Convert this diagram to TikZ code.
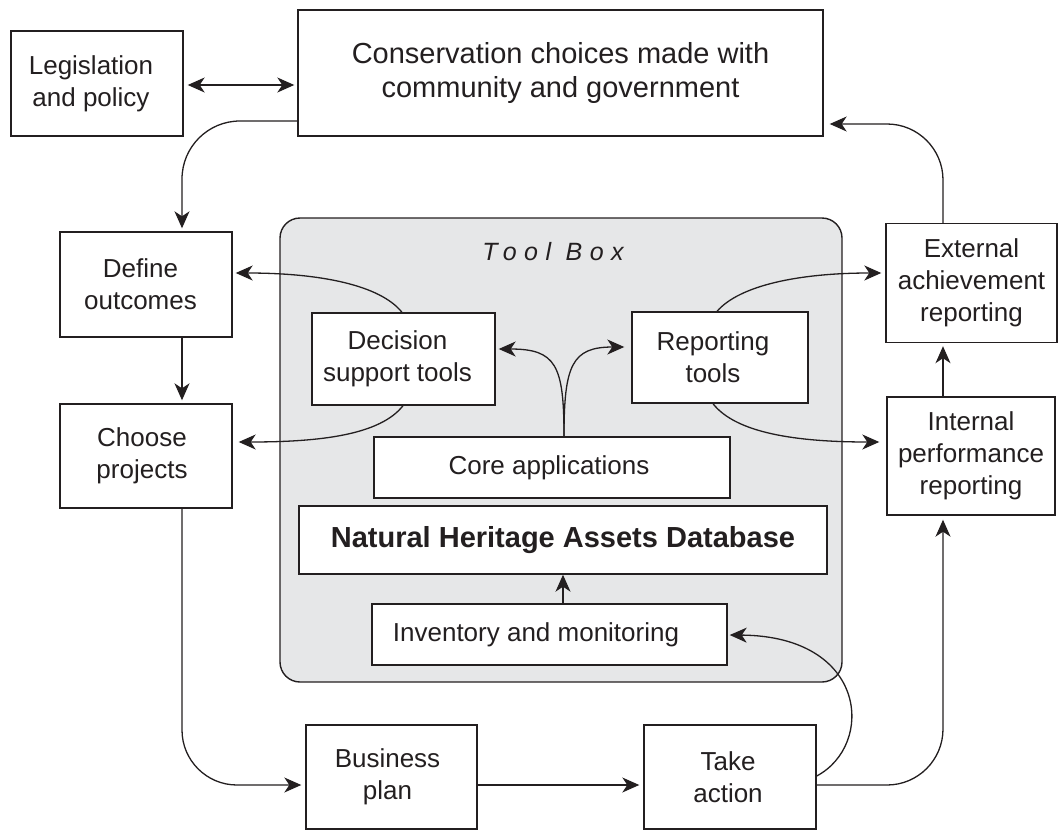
\documentclass[tikz,border=0pt]{standalone}
\usepackage{fontspec}
\setmainfont{Liberation Sans}
\usetikzlibrary{arrows.meta}
\definecolor{ink}{HTML}{231F20}
\definecolor{panel}{HTML}{E6E7E8}
\begin{document}
\begin{tikzpicture}[x=1pt,y=-1pt,
  txt/.style={font=\fontsize{26}{32}\selectfont, text=ink},
  box/.style={txt, draw=ink, line width=1.4pt, fill=white, inner sep=0pt, align=center},
  tip/.tip={Stealth[length=17pt,width=15pt,inset=5pt]},
  arr/.style={draw=ink, line width=1.3pt, -tip},
  darr/.style={draw=ink, line width=1.3pt, tip-tip}
]
\useasboundingbox (0,0) rectangle (1061,830);

% tool box panel
\node[draw=ink, line width=1.4pt, fill=panel, rounded corners=20pt,
      minimum width=562pt, minimum height=464pt] (tb) at (561,450) {};
\node[font=\fontsize{25}{30}\selectfont\itshape\addfontfeatures{LetterSpace=30}, text=ink]
      (tbtitle) at (553,252) {Tool Box};

% boxes
\node[box, minimum width=172pt, minimum height=105pt] (leg) at (97,83.5)
  {Legislation\hspace*{12pt}\\and policy\hspace*{12pt}};
\node[box, minimum width=525pt, minimum height=126pt, font=\fontsize{29}{35}\selectfont] (cons) at (560.5,73)
  {Conservation choices made with\\community and government};
\node[box, minimum width=172pt, minimum height=105pt] (def) at (146,284.5)
  {Define\hspace*{11pt}\\outcomes\hspace*{11pt}};
\node[box, minimum width=172pt, minimum height=104pt] (cho) at (146,456)
  {Choose\hspace*{8pt}\\projects\hspace*{8pt}};
\node[box, minimum width=183pt, minimum height=92pt] (dec) at (403.5,359)
  {Decision\hspace*{12pt}\\support tools\hspace*{12pt}};
\node[box, minimum width=176pt, minimum height=91pt] (rep) at (720,357.5)
  {Reporting\hspace*{14pt}\\tools\hspace*{14pt}};
\node[box, minimum width=356pt, minimum height=61pt] (core) at (552,467.5)
  {Core applications\hspace*{6pt}};
\node[box, minimum width=528pt, minimum height=68pt, font=\fontsize{29}{35}\selectfont\bfseries] (nhad) at (563,540)
  {Natural Heritage Assets Database};
\node[box, minimum width=355pt, minimum height=61pt] (inv) at (549.5,634.5)
  {Inventory and monitoring\hspace*{27pt}};
\node[box, minimum width=171pt, minimum height=119pt] (ext) at (971.5,283)
  {External\\achievement\\reporting};
\node[box, minimum width=168pt, minimum height=118pt] (int) at (971,456)
  {Internal\\performance\\reporting};
\node[box, minimum width=171pt, minimum height=104pt] (bus) at (391.5,777)
  {Business\hspace*{8pt}\\plan\hspace*{8pt}};
\node[box, minimum width=172pt, minimum height=104pt] (take) at (730,777)
  {Take\hspace*{4pt}\\action\hspace*{4pt}};

% outer cycle
\draw[darr, shorten <=4pt, shorten >=3pt] (leg.east |- 0,85) -- (cons.west |- 0,85);
\draw[arr, rounded corners=58pt, shorten >=3pt] (cons.west |- 0,121) -- (182,121) -- (def.north -| 182,0);
\draw[arr, shorten >=3pt] (def.south -| 182,0) -- (cho.north -| 182,0);
\draw[arr, rounded corners=55pt, shorten >=4pt] (cho.south -| 182,0) -- (182,785) -- (bus.west |- 0,785);
\draw[arr, shorten >=4pt] (bus.east |- 0,785) -- (take.west |- 0,785);
\draw[arr, rounded corners=56pt, shorten >=4pt] (take.east |- 0,785) -- (943,785) -- (int.south -| 943,0);
\draw[arr, shorten >=3pt] (int.north -| 943,0) -- (ext.south -| 943,0);
\draw[arr, rounded corners=56pt, shorten >=6pt] (ext.north -| 943,0) -- (943,124) -- (cons.east |- 0,124);

% links through the tool box
\draw[arr, shorten >=2pt] (take.east |- 0,776) .. controls (875,745) and (868,636) .. (inv.east |- 0,635);
\draw[arr] (inv.north -| 563,0) -- (nhad.south -| 563,0);
\draw[arr, shorten >=3pt] (core.north -| 564,0) .. controls (564,365) and (556,349) .. (dec.east |- 0,349);
\draw[arr, shorten >=7pt] (core.north -| 564,0) .. controls (564,365) and (572,347) .. (rep.west |- 0,347);
\draw[arr, shorten >=3pt] (dec.north -| 402,0) .. controls (380,285) and (320,273) .. (def.east |- 0,273);
\draw[arr, shorten >=6pt] (dec.south -| 403,0) .. controls (380,435) and (320,442) .. (cho.east |- 0,442);
\draw[arr, shorten >=4pt] (rep.north -| 717,0) .. controls (740,285) and (800,273) .. (ext.west |- 0,273);
\draw[arr, shorten >=7pt] (rep.south -| 713,0) .. controls (736,433) and (796,442) .. (int.west |- 0,442);
\end{tikzpicture}
\end{document}
